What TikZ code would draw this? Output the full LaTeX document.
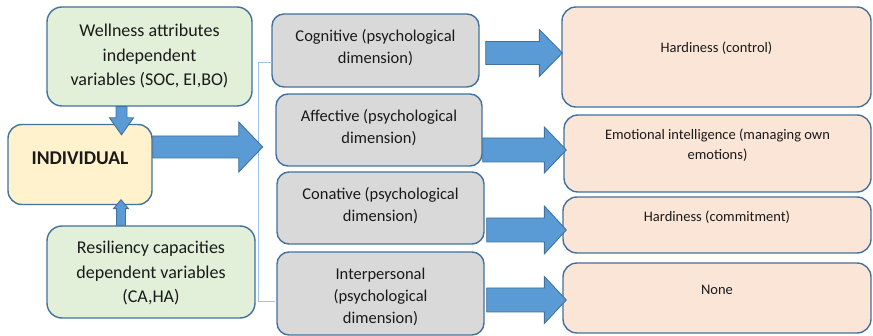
\documentclass[tikz,border=0pt]{standalone}
\usepackage{fontspec}
\setmainfont{Carlito}
\usetikzlibrary{calc}

\definecolor{boxline}{HTML}{41719C}
\definecolor{greenfill}{HTML}{E2F0D9}
\definecolor{yellowfill}{HTML}{FFF2CC}
\definecolor{grayfill}{HTML}{D9D9D9}
\definecolor{pinkfill}{HTML}{FBE5D6}
\definecolor{arrowfill}{HTML}{5B9BD5}
\definecolor{bracketline}{HTML}{9DC3E6}
\definecolor{ink}{HTML}{1A1A1A}

\tikzset{
  box/.style={draw=boxline, line width=1.4pt, inner sep=0pt},
  greenbox/.style={box, fill=greenfill, rounded corners=15pt},
  yellowbox/.style={box, fill=yellowfill, rounded corners=14pt},
  graybox/.style={box, fill=grayfill, rounded corners=12pt},
  pinkbox/.style={box, fill=pinkfill, rounded corners=14pt},
  bigtxt/.style={text=ink, align=center, inner sep=0pt, font=\fontsize{18}{24.5}\selectfont},
  midtxt/.style={text=ink, align=center, inner sep=0pt, font=\fontsize{16.5}{22}\selectfont},
  smalltxt/.style={text=ink, align=center, inner sep=0pt, font=\fontsize{14.5}{20}\selectfont},
  headtxt/.style={text=ink, align=center, inner sep=0pt, font=\fontsize{19.5}{24}\selectfont\bfseries},
  blockarrow/.style={fill=arrowfill, draw=boxline, line width=0.9pt, line join=miter},
  bracket/.style={draw=bracketline, line width=1pt},
}

% Horizontal block arrow: start point, tip point, shaft half-width,
% head half-width, head length (px); the arrow runs at the tip's height.
\newcommand\hblock[5]{%
  \draw[blockarrow] let \p1=(#1), \p2=(#2) in
    (\x1,\y2+#3pt) -- (\x2-#5pt,\y2+#3pt) -- (\x2-#5pt,\y2+#4pt) -- (\x2,\y2)
    -- (\x2-#5pt,\y2-#4pt) -- (\x2-#5pt,\y2-#3pt) -- (\x1,\y2-#3pt) -- cycle;}
% Vertical block arrow: start point, tip point, shaft half-width,
% head half-width, signed head length (positive points down).
\newcommand\vblock[5]{%
  \draw[blockarrow] let \p1=(#1), \p2=(#2) in
    (\x2-#3pt,\y1) -- (\x2-#3pt,\y2+#5pt) -- (\x2-#4pt,\y2+#5pt) -- (\x2,\y2)
    -- (\x2+#4pt,\y2+#5pt) -- (\x2+#3pt,\y2+#5pt) -- (\x2+#3pt,\y1) -- cycle;}

\begin{document}
\begin{tikzpicture}[x=1pt, y=-1pt]
  \useasboundingbox (0,0) rectangle (873,336);

  % left column
  \node[greenbox, minimum width=205pt, minimum height=99pt,
        label={[bigtxt]center:Wellness attributes\\independent\\variables (SOC, EI,BO)}]
        (well) at (149.5,56.5) {};
  \node[yellowbox, minimum width=144pt, minimum height=80pt,
        label={[headtxt, yshift=6pt]center:INDIVIDUAL}]
        (ind) at (80,164.5) {};
  \node[greenbox, minimum width=208pt, minimum height=92pt,
        label={[bigtxt, yshift=-1.5pt]center:Resiliency capacities\\dependent variables\\(CA,HA)}]
        (res) at (151,272) {};

  % psychological dimensions
  \node[graybox, minimum width=207pt, minimum height=73pt,
        label={[midtxt, yshift=2.5pt]center:Cognitive (psychological\\dimension)}]
        (cog) at (375.5,50.5) {};
  \node[graybox, minimum width=206pt, minimum height=72pt,
        label={[midtxt, yshift=2.5pt]center:Affective (psychological\\dimension)}]
        (aff) at (379,130) {};
  \node[graybox, minimum width=207pt, minimum height=72pt,
        label={[midtxt, yshift=2.5pt]center:Conative (psychological\\dimension)}]
        (con) at (380.5,208) {};
  \node[graybox, minimum width=207pt, minimum height=83pt,
        label={[midtxt, yshift=-3.5pt]center:Interpersonal\\(psychological\\dimension)}]
        (int) at (380.5,293.5) {};

  % outcomes
  \node[pinkbox, minimum width=309pt, minimum height=100pt,
        label={[smalltxt, yshift=9pt]center:Hardiness (control)}]
        (out1) at (716.5,57) {};
  \node[pinkbox, minimum width=307pt, minimum height=77pt,
        label={[smalltxt, yshift=8.5pt]center:Emotional intelligence (managing own\\emotions)}]
        (out2) at (717.5,153.5) {};
  \node[pinkbox, minimum width=308pt, minimum height=56pt,
        label={[smalltxt, yshift=8pt]center:Hardiness (commitment)}]
        (out3) at (717,225) {};
  \node[pinkbox, minimum width=308pt, minimum height=70pt,
        label={[smalltxt, yshift=8pt]center:None}]
        (out4) at (717,298) {};

  % bracket grouping the four dimensions
  \draw[bracket] ($(cog.west)+(1,12.5)$) -- ++(-14,0) |- ($(int.west)+(-1,8.5)$);

  % block arrows
  \coordinate (wellTip) at ($(ind.north)+(41.5,11)$);
  \coordinate (resTip)  at ($(ind.south)+(41,-5.5)$);
  \coordinate (indTip)  at ($(ind.east)+(110,-17.5)$);
  \vblock{well.south}{wellTip}{5.5}{12}{17}
  \vblock{res.north}{resTip}{4.5}{7.5}{-9}
  \hblock{ind.east}{indTip}{11}{25}{24}

  \coordinate (t1) at ($(out1.west)+(1,-4)$);
  \coordinate (t2) at ($(out2.west)+(3,-3.5)$);
  \coordinate (t3) at ($(out3.west)+(4,5)$);
  \coordinate (t4) at ($(out4.west)+(4,2)$);
  \hblock{$(cog.east)+(6,0)$}{t1}{11.5}{23.5}{23}
  \hblock{aff.east}{t2}{12}{23}{22}
  \hblock{$(con.east)+(2,0)$}{t3}{12}{24}{22}
  \hblock{$(int.east)+(2,0)$}{t4}{12}{23.5}{22}
\end{tikzpicture}
\end{document}
